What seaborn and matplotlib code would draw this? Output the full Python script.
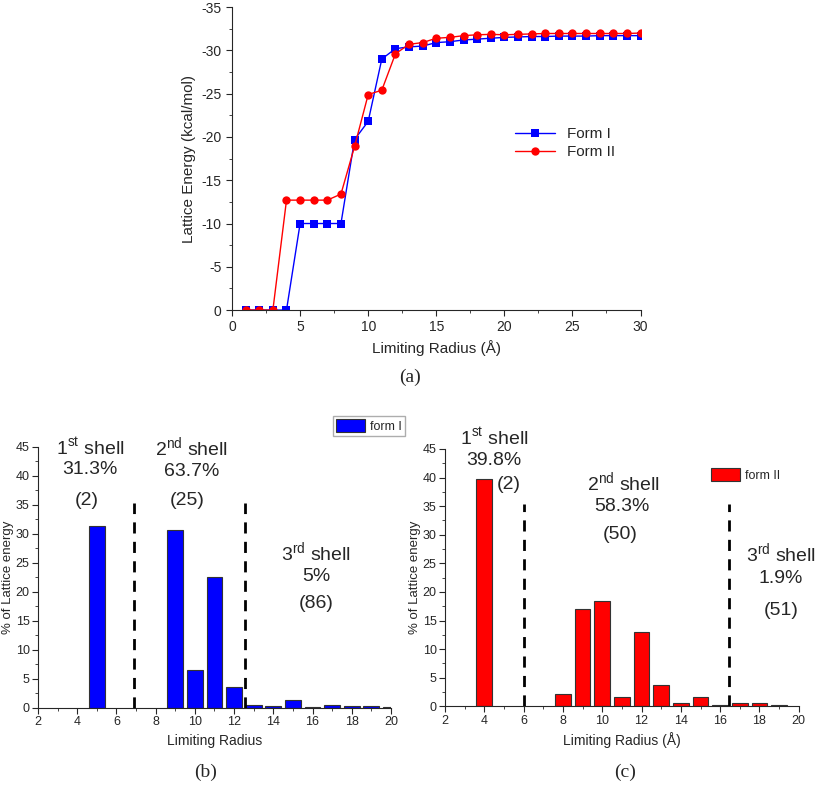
import matplotlib
matplotlib.use("Agg")
import matplotlib.pyplot as plt
import seaborn as sns
import pandas as pd
from matplotlib.ticker import MultipleLocator

sns.set_style("ticks")
plt.rcParams['font.family'] = ['Liberation Sans', 'DejaVu Sans']
plt.rcParams['axes.unicode_minus'] = False
plt.rcParams['mathtext.fontset'] = 'custom'
plt.rcParams['mathtext.rm'] = 'Liberation Sans'

# (a) lattice energy vs limiting radius
radius = list(range(1, 31))
form1_energy = [0, 0, 0, 0, -10.0, -10.0, -10.0, -10.0, -19.7, -21.8,
                -29.0, -30.2, -30.4, -30.5, -30.9, -31.0, -31.2, -31.3, -31.4, -31.5,
                -31.55, -31.6, -31.6, -31.65, -31.65, -31.65, -31.7, -31.7, -31.7, -31.7]
form2_energy = [0, 0, 0, -12.7, -12.7, -12.7, -12.7, -13.4, -18.9, -24.9,
                -25.4, -29.6, -30.7, -30.9, -31.4, -31.5, -31.7, -31.8, -31.85, -31.8,
                -31.85, -31.9, -31.95, -31.95, -31.95, -31.95, -31.95, -31.95, -31.95, -32.0]

# (b) form I contributions
bins_1 = [5, 9, 10, 11, 12, 13, 14, 15, 16, 17, 18, 19, 20]
pct_1 = [31.3, 30.7, 6.5, 22.6, 3.7, 0.5, 0.3, 1.4, 0.15, 0.6, 0.3, 0.3, 0.15]

# (c) form II contributions
bins_2 = [4, 8, 9, 10, 11, 12, 13, 14, 15, 16, 17, 18, 19]
pct_2 = [39.7, 2.1, 17.1, 18.5, 1.6, 13.0, 3.7, 0.5, 1.6, 0.2, 0.5, 0.5, 0.15]

fig = plt.figure(figsize=(8.17, 7.87), dpi=100)

# ---- panel (a)
ax = fig.add_axes([0.284, 0.606, 0.500, 0.385])
df_a = pd.DataFrame({'r': radius * 2,
                     'E': form1_energy + form2_energy,
                     'form': ['Form I'] * 30 + ['Form II'] * 30})
sns.lineplot(data=df_a, x='r', y='E', hue='form', style='form',
             palette={'Form I': '#0000ff', 'Form II': '#ff0000'},
             markers={'Form I': 's', 'Form II': 'o'}, dashes=False,
             markersize=6, markeredgewidth=0, linewidth=1, ax=ax)
ax.set_xlim(0, 30)
ax.set_ylim(0, -35)
ax.xaxis.set_major_locator(MultipleLocator(5))
ax.xaxis.set_minor_locator(MultipleLocator(2.5))
ax.yaxis.set_major_locator(MultipleLocator(5))
ax.yaxis.set_minor_locator(MultipleLocator(2.5))
ax.tick_params(which='both', direction='out', labelsize=10)
ax.tick_params(which='major', length=4)
ax.tick_params(which='minor', length=2)
ax.set_xlabel('Limiting Radius (Å)', fontsize=11)
ax.set_ylabel('Lattice Energy (kcal/mol)', fontsize=11)
sns.despine(ax=ax)
ax.legend(frameon=False, loc='upper left', bbox_to_anchor=(0.66, 0.65),
          fontsize=11, handlelength=2.6, labelspacing=0.3)
fig.text(0.502, 0.520, '(a)', ha='center', va='center', fontsize=14, family='Liberation Serif')


def shell_panel(ax, bins, pct, color, label, xlabel, vlines):
    df = pd.DataFrame({'r': bins, 'p': pct})
    sns.barplot(data=df, x='r', y='p', native_scale=True, color=color,
                saturation=1, edgecolor='#333333', linewidth=0.8, width=0.8,
                label=label, ax=ax)
    for x in vlines:
        ax.axvline(x, ymin=0, ymax=35.3 / 45, color='black', ls=(0, (4, 3)), lw=2)
    ax.set_xlim(2, 20)
    ax.set_ylim(0, 45)
    ax.xaxis.set_major_locator(MultipleLocator(2))
    ax.xaxis.set_minor_locator(MultipleLocator(1))
    ax.yaxis.set_major_locator(MultipleLocator(5))
    ax.yaxis.set_minor_locator(MultipleLocator(2.5))
    ax.tick_params(which='both', direction='out', labelsize=9, pad=2)
    ax.tick_params(which='major', length=4)
    ax.tick_params(which='minor', length=2)
    ax.set_xlabel(xlabel, fontsize=10)
    ax.set_ylabel('% of Lattice energy', fontsize=9.5, labelpad=1)
    sns.despine(ax=ax)


def label(ax, x, y, s):
    ax.text(x, y, s, ha='center', va='center', fontsize=14, clip_on=False)


# ---- panel (b)
axb = fig.add_axes([0.0465, 0.1004, 0.432, 0.332])
shell_panel(axb, bins_1, pct_1, '#0000ff', 'form I', 'Limiting Radius', [6.9, 12.55])
label(axb, 4.65, 44.8, "1$^{\\mathrm{st}}$ shell")
label(axb, 4.65, 41.0, "31.3%")
label(axb, 4.5, 35.8, "(2)")
label(axb, 9.85, 44.8, "2$^{\\mathrm{nd}}$ shell")
label(axb, 9.85, 40.8, "63.7%")
label(axb, 9.6, 35.8, "(25)")
label(axb, 16.2, 26.7, "3$^{\\mathrm{rd}}$ shell")
label(axb, 16.2, 22.6, "5%")
label(axb, 16.2, 18.0, "(86)")
axb.legend(loc='lower right', bbox_to_anchor=(1.04, 1.042), fontsize=9,
           fancybox=False, edgecolor='#999999', handlelength=2.3, handleheight=1.2,
           borderpad=0.25, handletextpad=0.4, borderaxespad=0)
fig.text(0.251, 0.019, '(b)', ha='center', va='center', fontsize=14, family='Liberation Serif')

# ---- panel (c)
axc = fig.add_axes([0.5447, 0.1025, 0.433, 0.327])
shell_panel(axc, bins_2, pct_2, '#ff0000', 'form II', 'Limiting Radius (Å)', [6.0, 16.45])
label(axc, 4.5, 47.0, "1$^{\\mathrm{st}}$ shell")
label(axc, 4.5, 43.0, "39.8%")
label(axc, 5.25, 38.8, "(2)")
label(axc, 11.1, 39.1, "2$^{\\mathrm{nd}}$ shell")
label(axc, 11.0, 34.9, "58.3%")
label(axc, 10.9, 30.1, "(50)")
label(axc, 19.1, 26.7, "3$^{\\mathrm{rd}}$ shell")
label(axc, 19.1, 22.3, "1.9%")
label(axc, 19.1, 16.8, "(51)")
axc.legend(loc='upper left', bbox_to_anchor=(0.72, 0.97), fontsize=9,
           frameon=False, handlelength=2.3, handleheight=1.2, handletextpad=0.4)
fig.text(0.765, 0.019, '(c)', ha='center', va='center', fontsize=14, family='Liberation Serif')

fig.savefig('out.png', dpi=100)
